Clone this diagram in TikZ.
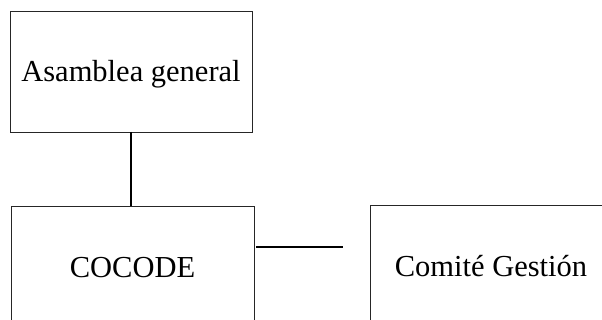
\documentclass[tikz,border=0pt]{standalone}
\usepackage{fontspec}
\setmainfont{Liberation Serif}
\begin{document}
\begin{tikzpicture}[x=1pt,y=-1pt,
  orgbox/.style={draw=black!85, line width=0.9pt, minimum width=242pt, minimum height=122pt,
    inner sep=0pt, outer sep=0pt, text height=20.3pt, text depth=0pt,
    font=\fontsize{30.5pt}{36pt}\selectfont},
  link/.style={draw=black, line width=1.7pt}]
\useasboundingbox (0,0) rectangle (602,320);
\node[orgbox, minimum height=121pt] (asamblea) at (131,71.5) {Asamblea general};
\node[orgbox, minimum width=243pt] (cocode) at (132.5,267) {COCODE};
\node[orgbox] (comite) at (491,266) {Comité Gestión};
\coordinate (hend) at (343,247);
\draw[link] (asamblea.south) -- (asamblea.south |- cocode.north);
\draw[link] ([xshift=2pt]cocode.east |- hend) -- (hend);
\end{tikzpicture}
\end{document}
